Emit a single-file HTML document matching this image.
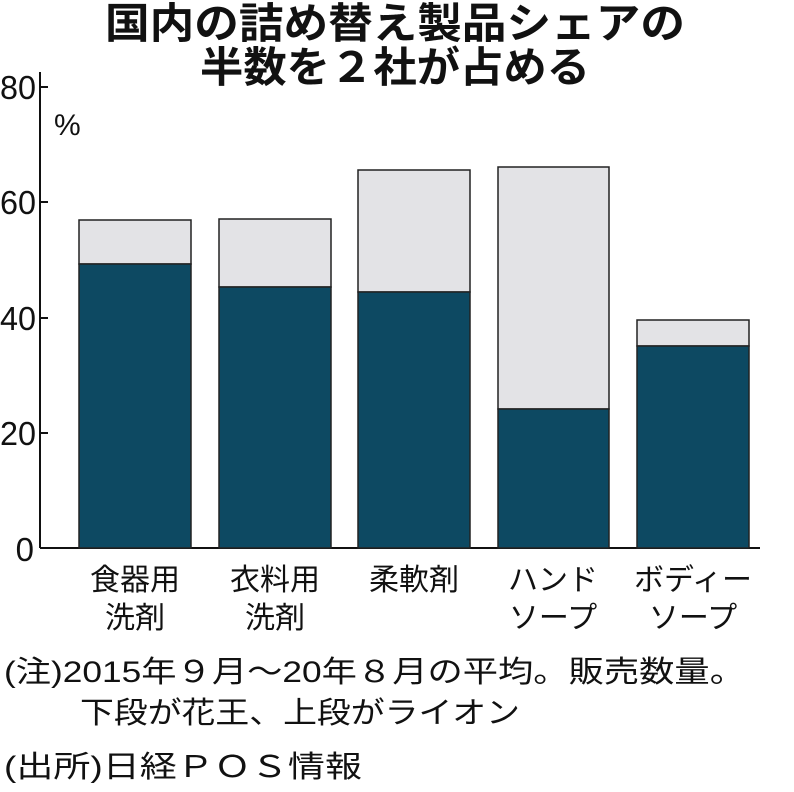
<!DOCTYPE html>
<html><head><meta charset="utf-8"><style>
body{margin:0;background:#fff;}
svg text{font-family:"Liberation Sans","Noto Sans CJK JP",sans-serif;fill:#111;}
</style></head><body>
<svg width="794" height="787" viewBox="0 0 794 787" xmlns="http://www.w3.org/2000/svg">
<text x="395" y="38" font-size="42" font-weight="bold" text-anchor="middle" textLength="580" lengthAdjust="spacingAndGlyphs">国内の詰め替え製品シェアの</text>
<text x="395" y="82" font-size="42" font-weight="bold" text-anchor="middle" textLength="390" lengthAdjust="spacingAndGlyphs">半数を２社が占める</text>
<g font-size="33" text-anchor="end">
<text x="36" y="99" textLength="36" lengthAdjust="spacingAndGlyphs">80</text><text x="36" y="214" textLength="36" lengthAdjust="spacingAndGlyphs">60</text><text x="36" y="330" textLength="36" lengthAdjust="spacingAndGlyphs">40</text><text x="36" y="445" textLength="36" lengthAdjust="spacingAndGlyphs">20</text><text x="34" y="561">0</text>
</g>
<text x="54" y="135" font-size="30">%</text>
<g stroke="#111" stroke-width="2" fill="none">
<line x1="40" y1="72" x2="40" y2="548"/>
<line x1="40" y1="548" x2="760" y2="548"/>
<line x1="40" y1="87" x2="48" y2="87"/><line x1="40" y1="202" x2="48" y2="202"/><line x1="40" y1="318" x2="48" y2="318"/><line x1="40" y1="433" x2="48" y2="433"/>
</g>
<g stroke="#222" stroke-width="1.5">
<rect x="79" y="220" width="112" height="44" fill="#e3e3e6"/><rect x="79" y="264" width="112" height="284" fill="#0d4962"/>
<rect x="219" y="219" width="112" height="68" fill="#e3e3e6"/><rect x="219" y="287" width="112" height="261" fill="#0d4962"/>
<rect x="358" y="170" width="112" height="122" fill="#e3e3e6"/><rect x="358" y="292" width="112" height="256" fill="#0d4962"/>
<rect x="498" y="167" width="111" height="242" fill="#e3e3e6"/><rect x="498" y="409" width="111" height="139" fill="#0d4962"/>
<rect x="637" y="320" width="112" height="26" fill="#e3e3e6"/><rect x="637" y="346" width="112" height="202" fill="#0d4962"/>
</g>
<g font-size="30" text-anchor="middle">
<text x="135" y="590">食器用</text><text x="135" y="628">洗剤</text>
<text x="275" y="590">衣料用</text><text x="275" y="628">洗剤</text>
<text x="414" y="590">柔軟剤</text>
<text x="553" y="590">ハンド</text><text x="553" y="628">ソープ</text>
<text x="693" y="590">ボディー</text><text x="693" y="628">ソープ</text>
</g>
<g font-size="30">
<text x="4" y="682" textLength="741" lengthAdjust="spacingAndGlyphs">(注)2015年９月～20年８月の平均。販売数量。</text>
<text x="80" y="723" textLength="440" lengthAdjust="spacingAndGlyphs">下段が花王、上段がライオン</text>
<text x="4" y="777" textLength="358" lengthAdjust="spacingAndGlyphs">(出所)日経ＰＯＳ情報</text>
</g>
</svg>
</body></html>
